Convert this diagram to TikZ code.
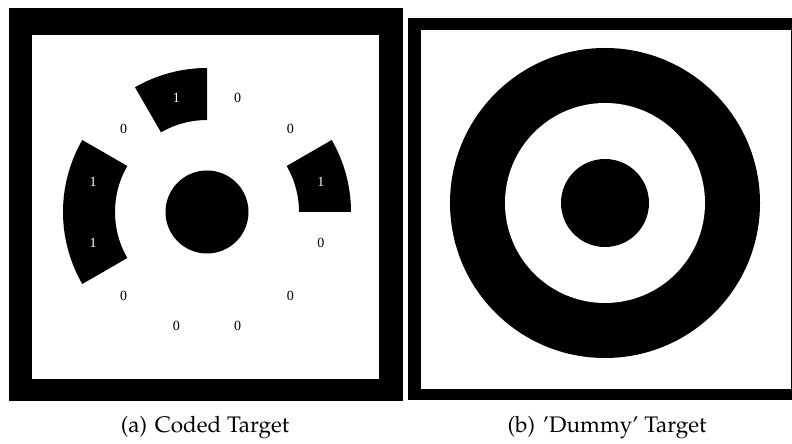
\documentclass[tikz,border=0pt]{standalone}
\usepackage{fontspec}
\setmainfont{Liberation Serif}
\usepackage[T1,TU]{fontenc}
\newcommand\capfont{\fontencoding{T1}\fontfamily{ppl}\selectfont}
\begin{document}
\begin{tikzpicture}[x=1pt,y=1pt,
  bit/.style={font=\fontsize{14}{14}\selectfont, inner sep=0pt},
  bitone/.style={bit, text=white},
  bitzero/.style={bit, text=black},
  captext/.style={font=\capfont\fontsize{22.5}{24}\selectfont, inner sep=0pt}]
\useasboundingbox (0,0) rectangle (792,444);
\fill[white] (0,0) rectangle (792,444);
% ---- left panel: coded target ----
\fill[black] (9,43) rectangle (403,436);
\fill[white] (32,65) rectangle (379,409);
\begin{scope}[shift={(207,232)}]
  \coordinate (cA) at (0,0);
  \fill[black] (cA) circle[radius=41.5];
  % coded sectors (inner r=92, outer r=144)
  \foreach \a/\b in {0/30, 90/120, 150/210}{
    \fill[black] (\a:144) arc[start angle=\a, end angle=\b, radius=144]
      -- (\b:92) arc[start angle=\b, end angle=\a, radius=92] -- cycle;
  }
  \foreach \ang/\bitv [count=\i] in {15/1,45/0,75/0,105/1,135/0,165/1,195/1,225/0,255/0,285/0,315/0,345/0}{
    \ifnum\bitv=1
      \node[bitone] (bit\i) at (\ang:118) {1};
    \else
      \node[bitzero] (bit\i) at (\ang:118) {0};
    \fi
  }
\end{scope}
% ---- right panel: dummy target ----
\fill[black] (408,44) rectangle (792,426);
\fill[white] (421,55) rectangle (791,414);
\coordinate (cB) at (605,241);
\fill[black] (cB) circle[radius=155];
\fill[white] (cB) circle[radius=100];
\fill[black] (cB) circle[radius=44];
% ---- captions ----
\node[captext] (capa) at (205,16) {(a)\hspace{0.1em} Coded Target};
\node[captext] (capb) at (607,16) {(b)\hspace{0.1em} 'Dummy' Target};
\end{tikzpicture}
\end{document}
